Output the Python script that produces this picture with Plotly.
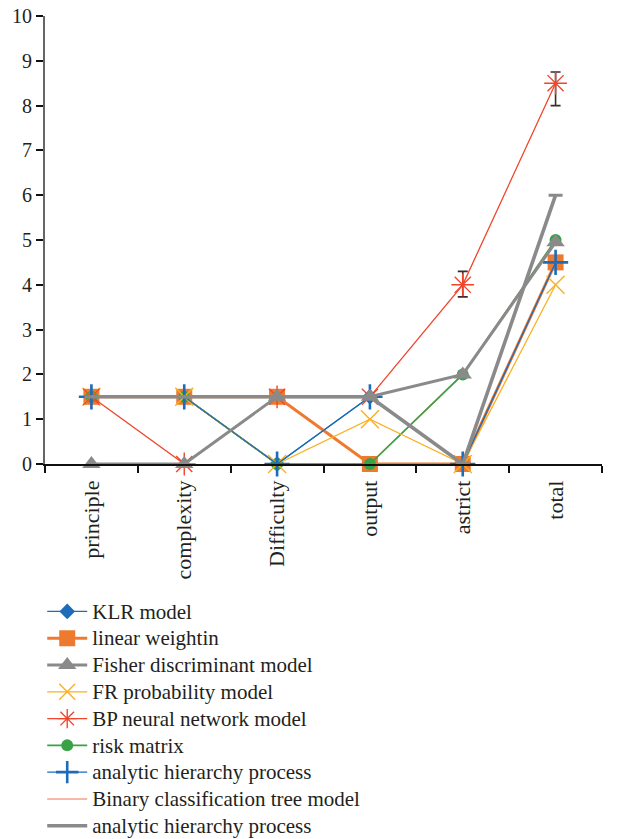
import plotly.graph_objects as go

# Evaluation criteria along the x axis
categories = ["principle", "complexity", "Difficulty", "output", "astrict", "total"]

# Scores per model
klr_model = [1.5, 1.5, 0.0, 1.5, 0.0, 4.5]
linear_weighting = [1.5, 1.5, 1.5, 0.0, 0.0, 4.5]
fisher_model = [0.0, 0.0, 1.5, 1.5, 2.0, 4.95]
fr_probability = [1.5, 1.5, 0.0, 1.0, 0.0, 4.0]
bp_network = [1.5, 0.0, 1.5, 1.5, 4.0, 8.5]
risk_matrix = [1.5, 1.5, 0.0, 0.0, 2.0, 5.0]
ahp_points = [1.5, 1.5, 0.0, 1.5, 0.0, 4.5]
binary_tree = [1.5, 1.5, 0.0, 0.0, 2.0, 5.0]
ahp_line = [1.5, 1.5, 1.5, 1.5, 0.0, 6.0]

# Error ranges on the BP network and the plain AHP line
bp_err_plus = [None, None, None, None, 0.3, 0.25]
bp_err_minus = [None, None, None, None, 0.27, 0.5]
ahp_line_err = [None, None, None, None, None, 0.0]

y_ticks = list(range(0, 11))

BLUE = "#1c6cb9"
ORANGE = "#ee7a30"
GRAY = "#8a8a8a"
YELLOW = "#f9b024"
RED = "#f0452b"
GREEN = "#39a246"
SALMON = "#f4a08a"
SERIF = "Liberation Serif"
TEXT = "#231f20"

fig = go.Figure()


def label(text):
    # legend rows keep a compact pitch while the label glyphs stay large
    return f'<span style="font-size:21px">{text}</span>'


def add(name, y, color, rank, width=1.3, symbol=None, size=12, mline=0, **kw):
    marker = dict(color=color, size=size)
    if symbol is not None:
        marker["symbol"] = symbol
        if symbol.endswith("open"):
            marker["line"] = dict(color=color, width=mline)
    fig.add_trace(go.Scatter(
        x=categories, y=y, name=label(name),
        mode="lines+markers" if symbol else "lines",
        line=dict(color=color, width=width),
        marker=marker, cliponaxis=False, legendrank=rank, **kw))


add("Binary classification tree model", binary_tree, SALMON, 8, width=1.6)
add("KLR model", klr_model, BLUE, 1, symbol="diamond", size=12)
add("linear weightin", linear_weighting, ORANGE, 2, width=3, symbol="square", size=16)
add("risk matrix", risk_matrix, GREEN, 6, width=1.6, symbol="circle", size=12)
add("FR probability model", fr_probability, YELLOW, 4, symbol="x-thin-open", size=18, mline=1.4)
add("BP neural network model", bp_network, RED, 5, symbol="asterisk-open", size=19, mline=1.4,
    error_y=dict(type="data", array=bp_err_plus, arrayminus=bp_err_minus, symmetric=False,
                 color="#3d2b2b", thickness=1.6, width=5))
add("analytic hierarchy process", ahp_points, BLUE, 7, symbol="cross-thin-open", size=18, mline=2.6)
add("Fisher discriminant model", fisher_model, GRAY, 3, width=3, symbol="triangle-up", size=16)
add("analytic hierarchy process", ahp_line, GRAY, 9, width=3.6,
    error_y=dict(type="data", array=ahp_line_err, color=GRAY, thickness=3, width=7))

fig.update_layout(
    width=626, height=839,
    margin=dict(l=45, r=24, t=16, b=375, autoexpand=False),
    paper_bgcolor="white", plot_bgcolor="white",
    font=dict(family=SERIF, color=TEXT, size=19),
    showlegend=True,
    legend=dict(
        orientation="v", x=-0.005, xanchor="left", y=-0.288, yanchor="top",
        font=dict(family=SERIF, size=18.3, color=TEXT),
        itemwidth=40, bgcolor="rgba(0,0,0,0)", traceorder="normal",
    ),
    xaxis=dict(
        type="category", range=[-0.5, 5.5], tickson="boundaries",
        ticks="outside", ticklen=7, tickwidth=1.5, tickcolor="#111",
        showline=True, linecolor="#111", linewidth=1.5,
        showgrid=False, zeroline=False, tickangle=-90, ticklabelstandoff=6,
        tickfont=dict(family=SERIF, size=22, color=TEXT),
    ),
    yaxis=dict(
        range=[0, 10], tickvals=y_ticks, ticks="outside", ticklen=7, tickwidth=1.5,
        tickcolor="#111", showline=True, linecolor="#666", linewidth=2,
        showgrid=False, zeroline=False,
        tickfont=dict(family=SERIF, size=20, color=TEXT),
    ),
)

fig.write_html("out.html")
